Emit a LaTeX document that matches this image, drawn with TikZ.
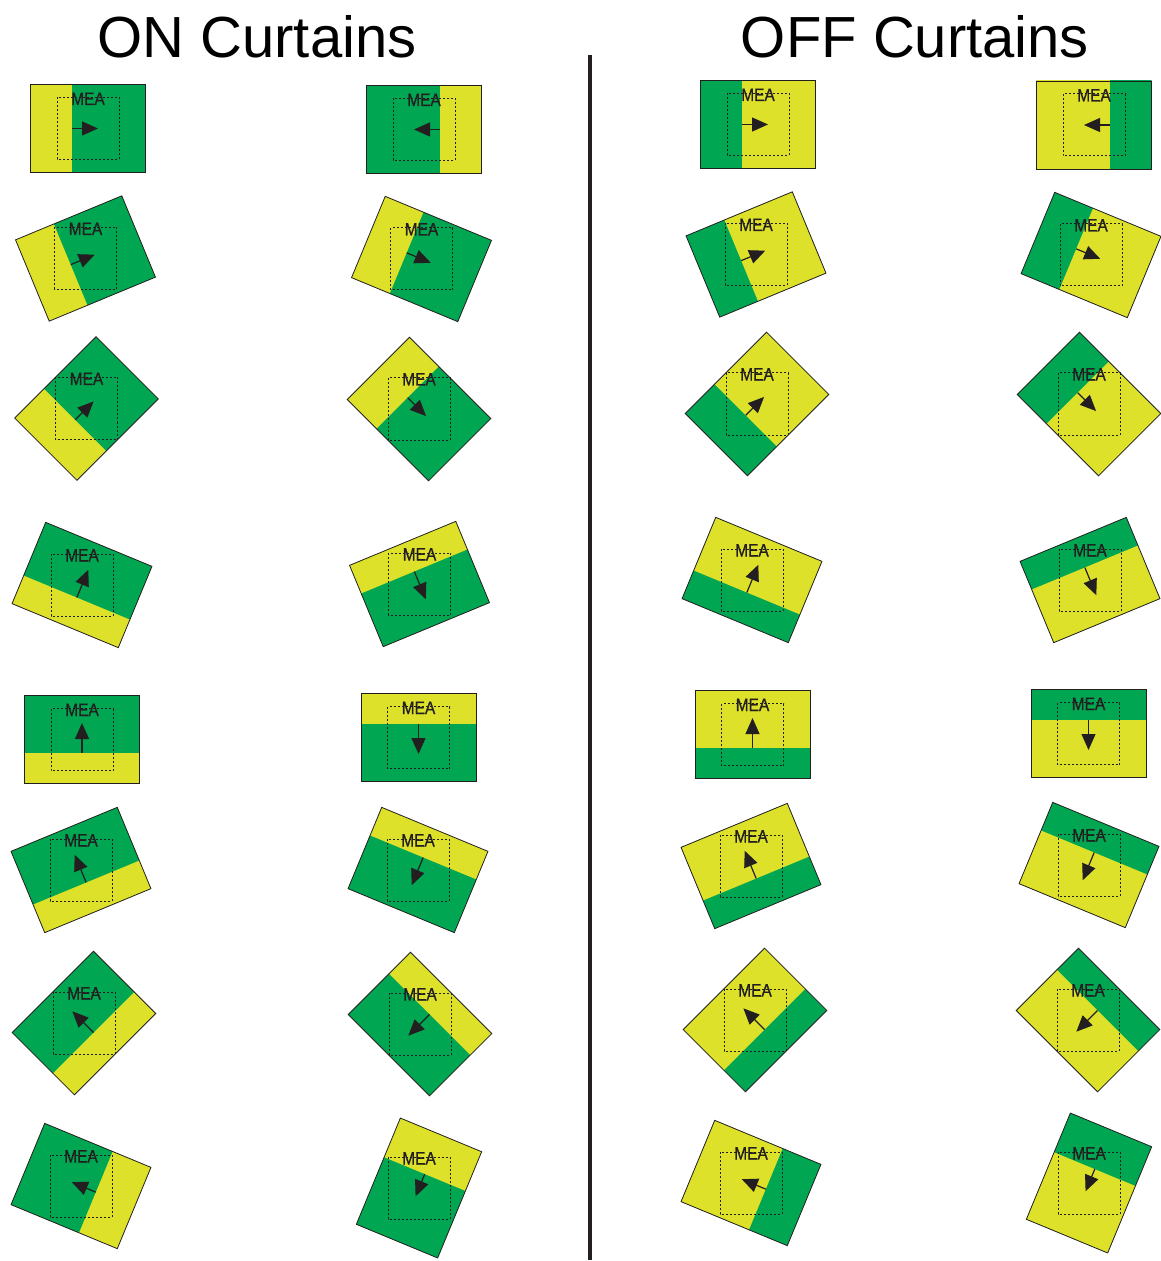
\documentclass[tikz,border=0pt]{standalone}
\usepackage{fontspec}
\usepackage{graphicx}
\setmainfont{Liberation Sans}
\newfontfamily\meafont{Liberation Sans}[FakeBold=0.8]
\usetikzlibrary{arrows.meta}
\definecolor{mgreen}{RGB}{0,166,81}
\definecolor{myellow}{RGB}{222,225,42}
\definecolor{inkdark}{RGB}{35,31,32}
\tikzset{
  rectline/.style={draw=inkdark, line width=0.4pt},
  dotbox/.style={draw=inkdark, line width=0.5pt, dash pattern=on 1pt off 1pt},
  meatext/.style={anchor=base, inner sep=0pt, text=inkdark, font=\meafont\fontsize{9}{10}\selectfont},
  meaarrow/.style={draw=inkdark, line width=0.6pt, -{Triangle[length=8pt,width=7pt]}},
  titletext/.style={anchor=base, inner sep=0pt, text=black, font=\fontsize{29}{34}\selectfont},
  divider/.style={draw=inkdark, line width=1.8pt}
}
% #1 name, #2 cx, #3 cy, #4 rect rotation, #5 arrow angle, #6 ahead colour, #7 behind colour, #8 boundary offset, #9 arrow tip
\newcommand\mcell[9]{%
\begin{scope}[shift={(#2,#3)}]
  \begin{scope}
    \clip[rotate=#4] (-57.5,-44) rectangle (57.5,44);
    \fill[#7] (-80,-80) rectangle (80,80);
    \fill[#6,rotate=#5] (#8,-90) rectangle (90,90);
  \end{scope}
  \draw[rectline,rotate=#4] (-57.5,-44) rectangle (57.5,44);
  \draw[dotbox] (-31,-31) rectangle (31,31);
  \node[meatext] (#1) at (0,-23.5) {\scalebox{0.86}[1]{MEA}};
  \draw[meaarrow,rotate=#5] (#8,0) -- (#9,0);
\end{scope}}
\begin{document}
\begin{tikzpicture}[x=0.5pt,y=-0.5pt]
\useasboundingbox (0,0) rectangle (1160,1261);
\fill[white] (0,0) rectangle (1160,1261);
% titles
\node[titletext] (ontitle) at (257,58) {ON Curtains};
\node[titletext] (offtitle) at (915,58) {OFF Curtains};
% divider
\coordinate (divtop) at (590,55);
\coordinate (divbot) at (590,1260);
\draw[divider] (divtop) -- (divbot);
% ON curtains, left column
\mcell{a1}{88}{128.5}{0}{0}{mgreen}{myellow}{-16}{10}
\mcell{a2}{85.5}{258.5}{22.5}{22.5}{mgreen}{myellow}{-16}{10}
\mcell{a3}{86.5}{408.5}{45}{45}{mgreen}{myellow}{-16}{10}
\mcell{a4}{82}{585}{-22.5}{67.5}{mgreen}{myellow}{-13.5}{16.5}
\mcell{a5}{82}{739.5}{0}{90}{mgreen}{myellow}{-13.5}{16.5}
\mcell{a6}{81}{870}{22.5}{112.5}{mgreen}{myellow}{-13.5}{16.5}
\mcell{a7}{84}{1023}{45}{135}{mgreen}{myellow}{-13.5}{16.5}
\mcell{a8}{81}{1186}{-22.5}{157.5}{mgreen}{myellow}{-16}{10}
% ON curtains, right column
\mcell{b1}{424}{129.5}{0}{180}{mgreen}{myellow}{-16}{10}
\mcell{b2}{421.5}{259}{-22.5}{-22.5}{mgreen}{myellow}{-16}{10}
\mcell{b3}{419}{409}{-45}{-45}{mgreen}{myellow}{-16}{10}
\mcell{b4}{419.5}{584}{22.5}{-67.5}{mgreen}{myellow}{-13.5}{16.5}
\mcell{b5}{418.5}{737.5}{0}{-90}{mgreen}{myellow}{-13.5}{16.5}
\mcell{b6}{418}{870}{-22.5}{-112.5}{mgreen}{myellow}{-13.5}{16.5}
\mcell{b7}{420}{1024}{-45}{-135}{mgreen}{myellow}{-13.5}{16.5}
\mcell{b8}{419}{1188}{-112.5}{-112.5}{mgreen}{myellow}{-15}{9}
% OFF curtains, left column
\mcell{c1}{758}{124.5}{0}{0}{myellow}{mgreen}{-16}{10}
\mcell{c2}{756}{254.5}{22.5}{22.5}{myellow}{mgreen}{-16}{10}
\mcell{c3}{757}{404}{45}{45}{myellow}{mgreen}{-16}{10}
\mcell{c4}{752}{580}{-22.5}{67.5}{myellow}{mgreen}{-13.5}{16.5}
\mcell{c5}{752.5}{734.5}{0}{90}{myellow}{mgreen}{-13.5}{16.5}
\mcell{c6}{751}{866}{22.5}{112.5}{myellow}{mgreen}{-13.5}{16.5}
\mcell{c7}{755}{1020}{45}{135}{myellow}{mgreen}{-13.5}{16.5}
\mcell{c8}{751}{1183}{-22.5}{157.5}{myellow}{mgreen}{-16}{10}
% OFF curtains, right column
\mcell{d1}{1094}{125}{0}{180}{myellow}{mgreen}{-16}{10}
\mcell{d2}{1091}{255}{-22.5}{-22.5}{myellow}{mgreen}{-16}{10}
\mcell{d3}{1089}{404}{-45}{-45}{myellow}{mgreen}{-16}{10}
\mcell{d4}{1090}{580}{22.5}{-67.5}{myellow}{mgreen}{-13.5}{16.5}
\mcell{d5}{1088.5}{733.5}{0}{-90}{myellow}{mgreen}{-13.5}{16.5}
\mcell{d6}{1089}{865}{-22.5}{-112.5}{myellow}{mgreen}{-13.5}{16.5}
\mcell{d7}{1088}{1020}{-45}{-135}{myellow}{mgreen}{-13.5}{16.5}
\mcell{d8}{1089}{1183}{-112.5}{-112.5}{myellow}{mgreen}{-15}{9}
\end{tikzpicture}
\end{document}
